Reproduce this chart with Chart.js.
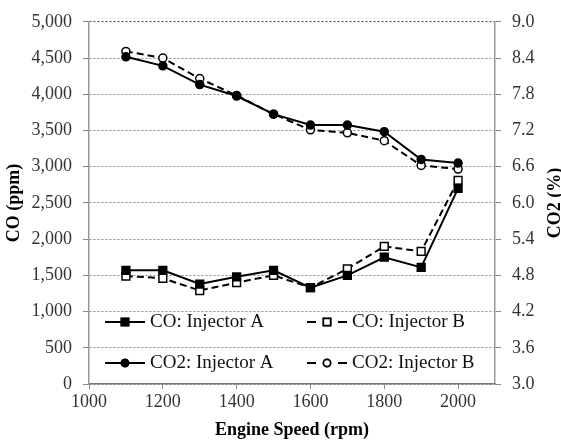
<!DOCTYPE html>
<html>
<head>
<meta charset="utf-8">
<script src="https://cdn.jsdelivr.net/npm/chart.js@4/dist/chart.umd.min.js"></script>
<style>
  html, body { margin: 0; padding: 0; background: #fff; }
  #wrap { width: 561px; height: 441px; }
</style>
</head>
<body>
<div id="wrap"><canvas id="emisChart" width="561" height="441"></canvas></div>
<script>
  // engine speed (rpm) on the x axis
  const engineSpeed = [1100, 1200, 1300, 1400, 1500, 1600, 1700, 1800, 1900, 2000];

  // CO in ppm (left axis)
  const coInjA = [1570, 1570, 1380, 1480, 1570, 1330, 1500, 1750, 1610, 2700];
  const coInjB = [1490, 1460, 1290, 1400, 1500, 1330, 1590, 1900, 1830, 2810];

  // CO2 in % (right axis)
  const co2InjA = [8.42, 8.27, 7.96, 7.77, 7.47, 7.29, 7.29, 7.18, 6.72, 6.66];
  const co2InjB = [8.51, 8.40, 8.06, 7.78, 7.47, 7.21, 7.16, 7.03, 6.62, 6.56];

  const seriesNames = ['CO: Injector A', 'CO: Injector B', 'CO2: Injector A', 'CO2: Injector B'];

  // axis ranges / ticks
  const xTicks = { min: 1000, max: 2100, step: 200 };
  const coTicks = { min: 0, max: 5000, step: 500 };
  const co2Ticks = { min: 3.0, max: 9.0, step: 0.6 };

  const FONT = "'Liberation Serif', 'Times New Roman', serif";

  function pairs(ys) {
    return engineSpeed.map((x, i) => ({ x: x, y: ys[i] }));
  }

  // legend drawn inside the plot, two columns like the original
  const innerLegend = {
    id: 'innerLegend',
    afterDraw(chart) {
      const ctx = chart.ctx;
      const cols = [105, 307];
      const rows = [322, 363];
      ctx.save();
      chart.data.datasets.forEach((ds, i) => {
        const x0 = cols[i % 2], y = rows[Math.floor(i / 2)];
        ctx.strokeStyle = '#000';
        ctx.lineWidth = 2;
        ctx.beginPath();
        if (ds.borderDash) {
          ctx.moveTo(x0, y); ctx.lineTo(x0 + 9, y);
          ctx.moveTo(x0 + 31, y); ctx.lineTo(x0 + 40, y);
        } else {
          ctx.moveTo(x0, y); ctx.lineTo(x0 + 40, y);
        }
        ctx.stroke();
        Chart.helpers.drawPoint(ctx, {
          pointStyle: ds.pointStyle,
          radius: ds.pointStyle === 'rect' ? 5 : 3.5,
          borderWidth: 1.5
        }, x0 + 20, y);
        ctx.fillStyle = ds.pointBackgroundColor;
        ctx.strokeStyle = '#000';
        ctx.lineWidth = 1.5;
        ctx.fill();
        ctx.stroke();
        ctx.fillStyle = '#111';
        ctx.font = '19px ' + FONT;
        ctx.textBaseline = 'middle';
        ctx.textAlign = 'left';
        ctx.fillText(ds.label, x0 + 45, y);
      });

      // right axis title reads bottom to top
      ctx.translate(555, (chart.chartArea.top + chart.chartArea.bottom) / 2);
      ctx.rotate(-Math.PI / 2);
      ctx.font = 'bold 18px ' + FONT;
      ctx.fillStyle = '#000';
      ctx.textAlign = 'center';
      ctx.textBaseline = 'middle';
      ctx.fillText('CO2 (%)', 0, 0);
      ctx.restore();
    }
  };

  function mkSet(label, ys, axis, style, filled, dashed) {
    return {
      label: label,
      data: pairs(ys),
      yAxisID: axis,
      borderColor: '#000',
      borderWidth: 2,
      borderDash: dashed ? [7, 4] : undefined,
      pointStyle: style,
      pointRadius: style === 'rect' ? 5.5 : 4,
      pointBorderWidth: 1.5,
      pointBorderColor: '#000',
      pointBackgroundColor: filled ? '#000' : '#fff',
      tension: 0,
      fill: false
    };
  }

  document.addEventListener('DOMContentLoaded', () => {
    const ctx = document.getElementById('emisChart').getContext('2d');
    new Chart(ctx, {
      type: 'line',
      data: {
        datasets: [
          mkSet(seriesNames[0], coInjA, 'yCO', 'rect', true, false),
          mkSet(seriesNames[1], coInjB, 'yCO', 'rect', false, true),
          mkSet(seriesNames[2], co2InjA, 'yCO2', 'circle', true, false),
          mkSet(seriesNames[3], co2InjB, 'yCO2', 'circle', false, true)
        ]
      },
      options: {
        responsive: false,
        animation: false,
        layout: { padding: { top: 15, right: 0, left: 0, bottom: 0 } },
        plugins: { legend: { display: false }, tooltip: { enabled: false } },
        scales: {
          x: {
            type: 'linear',
            min: xTicks.min, max: xTicks.max,
            afterFit: (s) => { s.height = 57; },
            ticks: {
              stepSize: xTicks.step, includeBounds: false,
              color: '#333', padding: 2,
              font: { family: FONT, size: 18 },
              callback: (v) => String(v)
            },
            grid: { drawOnChartArea: false, drawTicks: true, tickLength: 5, tickColor: '#888' },
            border: { color: '#777', width: 1.5 },
            title: {
              display: true, text: 'Engine Speed (rpm)', color: '#000',
              font: { family: FONT, size: 18, weight: 'bold' }, padding: { top: -2, bottom: 0 }
            }
          },
          yCO: {
            position: 'left',
            min: coTicks.min, max: coTicks.max,
            afterFit: (s) => { s.width = 89; },
            ticks: {
              stepSize: coTicks.step, color: '#333', padding: 11,
              font: { family: FONT, size: 18 },
              callback: (v) => v.toLocaleString('en-US')
            },
            grid: {
              // top line is a darker one in the original
              color: (c) => (c.tick && c.tick.value === coTicks.max ? '#444' : '#8a8a8a'),
              lineWidth: 1, tickBorderDash: [], tickLength: 6, tickColor: '#888'
            },
            border: { color: '#999', width: 1.5, dash: [2, 2] },
            title: {
              display: true, text: 'CO (ppm)', color: '#000',
              font: { family: FONT, size: 18, weight: 'bold' }, padding: { top: 4, bottom: 0 }
            }
          },
          yCO2: {
            position: 'right',
            min: co2Ticks.min, max: co2Ticks.max,
            afterFit: (s) => { s.width = 66; },
            ticks: {
              stepSize: co2Ticks.step, color: '#333', padding: 11,
              font: { family: FONT, size: 18 },
              callback: (v) => v.toFixed(1)
            },
            grid: { drawOnChartArea: false, tickLength: 6, tickColor: '#888' },
            border: { color: '#999', width: 1.5 }
          }
        }
      },
      plugins: [innerLegend]
    });
  });
</script>
</body>
</html>
